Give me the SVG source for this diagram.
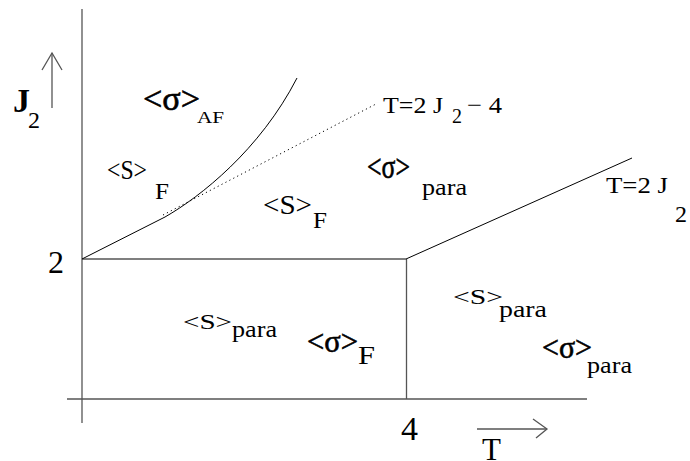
<svg xmlns="http://www.w3.org/2000/svg" width="690" height="461" viewBox="0 0 690 461">
<rect width="690" height="461" fill="#fff"/>
<g id="axes" stroke="#555" stroke-width="1.3" fill="none">
<line x1="82" y1="9" x2="82" y2="423"/>
<line x1="67" y1="399" x2="587" y2="399"/>
<line x1="82" y1="259" x2="406" y2="259"/>
<line x1="406.5" y1="259" x2="406.5" y2="399"/>
<line x1="52" y1="108" x2="52" y2="53"/>
<polyline points="42,70 52,53 62,70"/>
<line x1="477" y1="429" x2="547" y2="429"/>
<polyline points="533,419 547,429 536,438"/>
</g>
<g id="boundaries" stroke="#000" stroke-width="1" fill="none">
<path d="M82,259 L165,217 C200,197 260,150 297,78"/>
<line x1="163" y1="215" x2="376" y2="104" stroke-dasharray="1.2 3.2"/>
<line x1="406" y1="259" x2="632" y2="158"/>
</g>
<text x="13" y="112" font-size="34" font-weight="bold" style="font-family:'Liberation Serif'">J</text>
<text x="28" y="128" font-size="24" style="font-family:'Liberation Serif'">2</text>
<text x="48" y="273" font-size="32" style="font-family:'Liberation Serif'">2</text>
<text x="401" y="440" font-size="34" style="font-family:'Liberation Serif'">4</text>
<text x="482" y="460" font-size="31" style="font-family:'Liberation Serif'">T</text>
<text x="383" y="113" font-size="24" textLength="60" lengthAdjust="spacingAndGlyphs" style="font-family:'Liberation Serif'">T=2 J</text>
<text x="452" y="123" font-size="20" style="font-family:'Liberation Serif'">2</text>
<text x="467" y="113" font-size="24" textLength="35" lengthAdjust="spacingAndGlyphs" style="font-family:'Liberation Serif'">− 4</text>
<text x="606" y="193" font-size="23" textLength="62" lengthAdjust="spacingAndGlyphs" style="font-family:'Liberation Serif'">T=2 J</text>
<text x="675" y="222" font-size="24" style="font-family:'Liberation Serif'">2</text>
<text x="143" y="110" font-size="34" textLength="57" lengthAdjust="spacingAndGlyphs" stroke="#000" stroke-width="0.6" style="font-family:'Liberation Serif'">&lt;σ&gt;</text>
<text x="197" y="123" font-size="16" textLength="27" lengthAdjust="spacingAndGlyphs" style="font-family:'Liberation Serif'">AF</text>
<text x="107" y="179" font-size="27" textLength="40" lengthAdjust="spacingAndGlyphs" style="font-family:'Liberation Serif'">&lt;S&gt;</text>
<text x="155" y="199" font-size="24" textLength="14" lengthAdjust="spacingAndGlyphs" style="font-family:'Liberation Serif'">F</text>
<text x="263" y="214" font-size="27" textLength="49" lengthAdjust="spacingAndGlyphs" style="font-family:'Liberation Serif'">&lt;S&gt;</text>
<text x="313" y="228" font-size="24" textLength="14" lengthAdjust="spacingAndGlyphs" style="font-family:'Liberation Serif'">F</text>
<text x="367" y="178" font-size="34" textLength="43" lengthAdjust="spacingAndGlyphs" stroke="#000" stroke-width="0.6" style="font-family:'Liberation Serif'">&lt;σ&gt;</text>
<text x="422" y="195" font-size="24" textLength="45" lengthAdjust="spacingAndGlyphs" style="font-family:'Liberation Serif'">para</text>
<text x="183" y="329" font-size="22" textLength="49" lengthAdjust="spacingAndGlyphs" style="font-family:'Liberation Serif'">&lt;S&gt;</text>
<text x="232" y="337" font-size="24" textLength="45" lengthAdjust="spacingAndGlyphs" style="font-family:'Liberation Serif'">para</text>
<text x="307" y="352" font-size="32" textLength="51" lengthAdjust="spacingAndGlyphs" stroke="#000" stroke-width="0.6" style="font-family:'Liberation Serif'">&lt;σ&gt;</text>
<text x="358" y="364" font-size="26" textLength="17" lengthAdjust="spacingAndGlyphs" style="font-family:'Liberation Serif'">F</text>
<text x="453" y="304" font-size="22" textLength="50" lengthAdjust="spacingAndGlyphs" style="font-family:'Liberation Serif'">&lt;S&gt;</text>
<text x="499" y="317" font-size="24" textLength="48" lengthAdjust="spacingAndGlyphs" style="font-family:'Liberation Serif'">para</text>
<text x="542" y="358" font-size="32" textLength="50" lengthAdjust="spacingAndGlyphs" stroke="#000" stroke-width="0.6" style="font-family:'Liberation Serif'">&lt;σ&gt;</text>
<text x="587" y="373" font-size="24" textLength="45" lengthAdjust="spacingAndGlyphs" style="font-family:'Liberation Serif'">para</text>
</svg>
